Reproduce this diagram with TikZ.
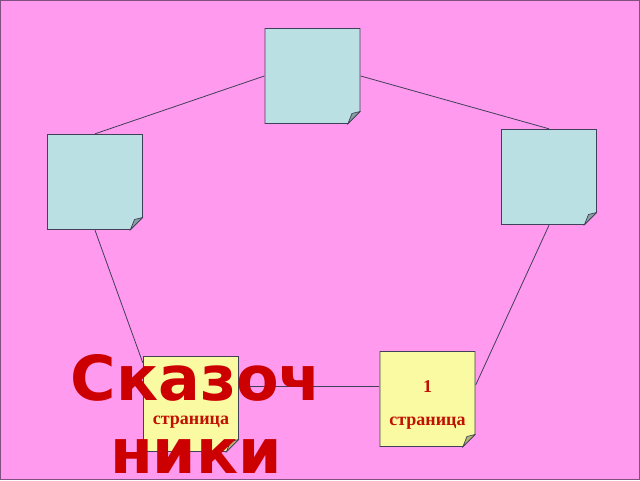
\documentclass[tikz,border=0pt]{standalone}
\usepackage{fontspec}
\usepackage{tikz}
\usetikzlibrary{backgrounds}
\newfontfamily\titlefont{DejaVu Sans}
\newfontfamily\notefont{Liberation Serif}
\definecolor{pinkbg}{RGB}{255,154,238}
\definecolor{frameline}{RGB}{128,80,128}
\definecolor{edgeline}{RGB}{64,64,88}
\definecolor{bluepage}{RGB}{187,224,227}
\definecolor{yellowpage}{RGB}{250,250,162}
\definecolor{titlered}{RGB}{204,0,0}
\definecolor{notered}{RGB}{192,16,0}

\begin{document}
\begin{tikzpicture} [
	x=1pt,y=-1pt,
	page/.style={
		minimum width=96pt,minimum height=96pt,inner sep=0pt,
		align=center,text=notered,text depth=0pt,
		font=\notefont\bfseries\fontsize{18}{33}\selectfont,
		path picture={
			\coordinate (nw) at ([xshift=.5pt,yshift=-.5pt]path picture bounding box.north west);
			\coordinate (se) at ([xshift=-.5pt,yshift=.5pt]path picture bounding box.south east);
			\filldraw[fill=#1,draw=edgeline,line width=.9pt] (nw) -- (nw -| se) -- ([yshift=12pt]se)
				-- ([xshift=-12pt]se) -- (nw |- se) -- cycle;
			\filldraw[fill=#1!72!black,draw=edgeline,line width=.7pt] ([yshift=12pt]se)
				-- ([xshift=-8pt,yshift=10pt]se) -- ([xshift=-12pt]se) -- cycle;}},
	link/.style={draw=edgeline,line width=.8pt}]
\useasboundingbox (0,0) rectangle (640,480);
\node [page=bluepage]	(top)		at (312.5,76)	{};
\node [page=bluepage]	(left)		at (95,182)	{};
\node [page=bluepage]	(right)		at (549,177)	{};
\node [page=yellowpage,text height=40pt]	(page two)	at (191,404)	{страница};
\node [page=yellowpage,text height=52pt]	(page one)	at (427.5,399)	{1\\страница};
\begin{scope}[on background layer]
	\fill[pinkbg] (0,0) rectangle (640,480);
	\draw[frameline] (.5,.5) rectangle (639.5,479.5);
	\draw[link] (top.west) -- (left.north);
	\draw[link] (top.east) -- (right.north);
	\draw[link] (left.south) -- ([yshift=-7pt]page two.north west);
	\draw[link] (right.south) -- ([yshift=14pt]page one.east);
	\draw[link] ([yshift=18pt]page two.east) -- ([yshift=13pt]page one.west);
\end{scope}
\node [anchor=base,align=center,text=titlered,
	font=\titlefont\bfseries\fontsize{62}{73}\selectfont] (title) at (196,473) {Сказоч\\ники};
\end{tikzpicture}
\end{document}
